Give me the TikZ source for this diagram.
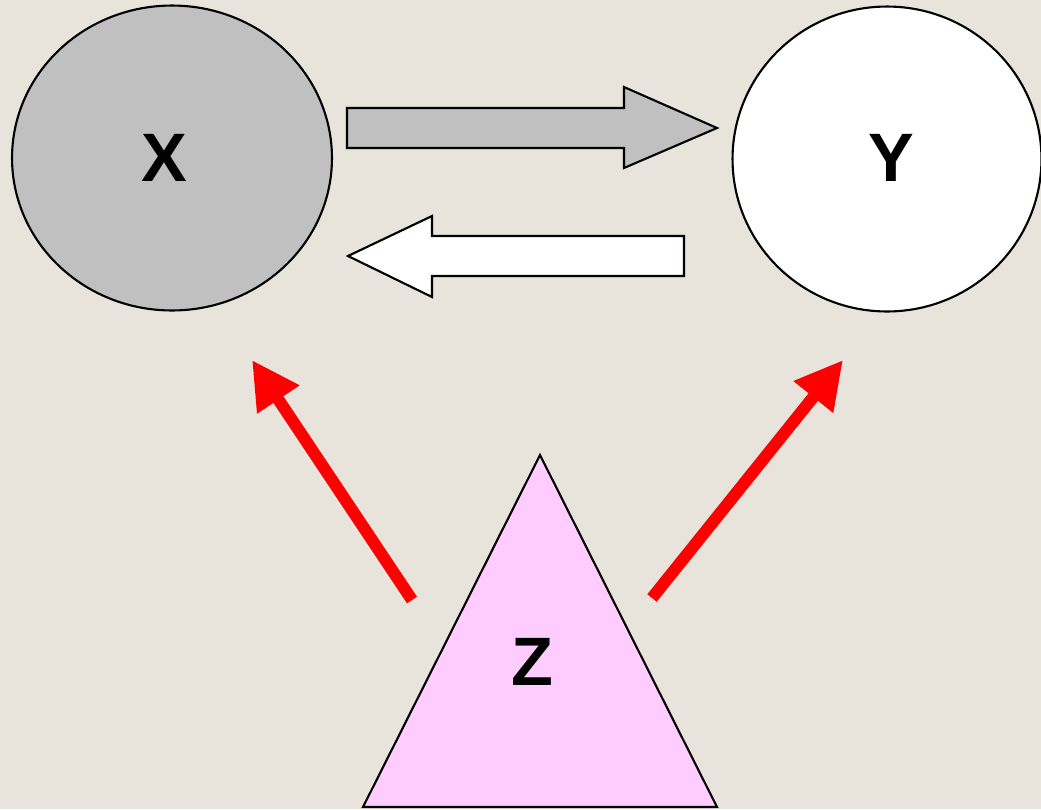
\documentclass[tikz,border=0pt]{standalone}
\usepackage{fontspec}
\setmainfont{Liberation Sans}
\usepackage{tikz}
\usetikzlibrary{arrows.meta,shapes.geometric}
\usepackage{xcolor}
\definecolor{bgbeige}{HTML}{E8E4DC}
\definecolor{boxgray}{HTML}{C0C0C0}
\definecolor{zpink}{HTML}{FFCCFF}

\begin{document}
\begin{tikzpicture}[x=0.02cm, y=-0.02cm,
  bigletter/.style={font=\fontsize{39}{42}\selectfont\bfseries},
  varnode/.style={draw, line width=1.2pt, ellipse, inner sep=0pt,
    minimum width=6.4cm, minimum height=6.1cm},
  blockarrow/.style={draw, line width=1.2pt, line join=miter},
  causearrow/.style={draw=red, line width=0.24cm,
    -{Triangle[length=0.95cm, width=0.95cm]}}]

% background
\fill[bgbeige] (0,0) rectangle (1041,809);
\useasboundingbox (0,0) rectangle (1041,809);

% variables
\node[varnode, fill=boxgray] (X) at (172,158) {};
\node[bigletter] (Xlab) at (164,158) {X};
\node[varnode, fill=white, minimum width=6.18cm] (Y) at (887,159) {};
\node[bigletter] (Ylab) at (891,158) {Y};

% confounder
\draw[line width=1.2pt, fill=zpink] (540,455) -- (717,807) -- (363,807) -- cycle;
\node[bigletter] (Z) at (532,662) {Z};

% block arrows
\draw[blockarrow, fill=boxgray] (347,108) -- (624,108) -- (624,87) -- (717,128)
  -- (624,168) -- (624,148) -- (347,148) -- cycle;
\draw[blockarrow, fill=white] (684,236) -- (432,236) -- (432,216) -- (348,256)
  -- (432,297) -- (432,276) -- (684,276) -- cycle;

% red arrows from Z
\coordinate (zl) at (412,600);
\coordinate (xin) at (252,360);
\coordinate (zr) at (652,598);
\coordinate (yin) at (843,360);
\draw[causearrow] (zl) -- (xin);
\draw[causearrow] (zr) -- (yin);
\end{tikzpicture}
\end{document}
